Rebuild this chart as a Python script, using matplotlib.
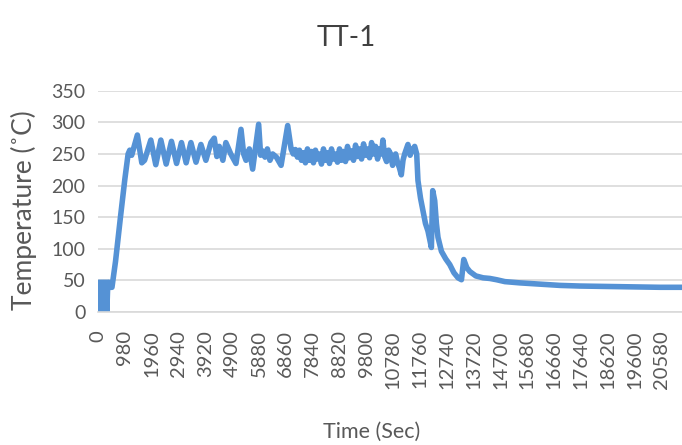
import matplotlib
matplotlib.use('Agg')
import matplotlib.pyplot as plt

plt.rcParams['font.family'] = ['Lato', 'DejaVu Sans']

# time (sec) and temperature (deg C)
time_sec = [0, 40, 80, 120, 160, 200, 240, 280, 320, 360, 400,
            420, 510, 640, 820, 980, 1100, 1160, 1230, 1320,
            1438, 1600, 1700, 1929, 2110, 2295, 2490, 2683, 2870, 3049, 3220,
            3393, 3580, 3759, 3940, 4125, 4246, 4340, 4429, 4560, 4670, 4850, 5040, 5223,
            5320, 5406, 5527, 5648, 5867, 5940, 6002, 6100, 6185, 6280, 6380, 6515, 6687, 6928,
            7053, 7130,
            7210, 7283, 7357, 7430, 7503, 7576, 7650, 7723, 7796, 7869,
            7942, 8015, 8089, 8162, 8235, 8308, 8381, 8454, 8528, 8601,
            8674, 8747, 8821, 8894, 8967, 9040, 9113, 9186, 9260, 9333,
            9406, 9479, 9553, 9626, 9699, 9772, 9845, 9918, 9992, 10065,
            10138, 10211, 10285, 10358, 10405, 10470, 10541, 10614, 10687, 10760,
            10797, 10870, 10943, 11010, 11078, 11140, 11200,
            11320, 11400, 11456, 11566, 11640, 11686, 11780, 11869, 11960, 12052, 12177,
            12225, 12298, 12360, 12418, 12543, 12700, 12847, 13000, 13150, 13275,
            13359, 13470, 13579, 13799, 14066, 14310,
            14556, 14860, 15409, 16140, 16873, 17604, 19069, 20533, 21338]
temp_c = [0, 47, 0, 47, 0, 47, 0, 47, 0, 47, 47,
          39, 39, 80, 150, 210, 250, 256, 248, 262,
          280, 236, 240, 272, 233, 272, 234, 270, 235, 268, 236,
          268, 237, 265, 240, 268, 275, 246, 262, 240, 268, 250, 235, 289,
          250, 240, 258, 226, 297, 248, 255, 245, 258, 240, 250, 245, 232, 295,
          258, 250,
          257, 245, 256, 240, 252, 236, 258, 240, 254, 236,
          256, 242, 250, 234, 258, 240, 252, 235, 258, 242,
          250, 237, 258, 240, 254, 238, 262, 244, 255, 240,
          264, 246, 258, 242, 266, 248, 258, 244, 268, 250,
          262, 242, 258, 250, 272, 246, 238, 256, 250, 232,
          240, 250, 236, 228, 217, 240, 250,
          265, 248, 255, 262, 250, 208, 180, 160, 140, 128, 102,
          192, 176, 140, 118, 96, 84, 75, 62, 54, 51,
          83, 70, 64, 57, 54, 53,
          51, 48, 46, 44, 42, 41, 40, 39, 39]

tick_pos = list(range(0, 20581, 980))
tick_labels = [str(t) for t in tick_pos]

fig = plt.figure(figsize=(6.82, 4.45), dpi=100)
ax = fig.add_axes([0.1437, 0.299, 0.8563, 0.497])

ax.plot(time_sec, temp_c, color='#5592D5', lw=4.0, solid_joinstyle='round')

ax.set_ylim(0, 350)
ax.set_xlim(0, 21330)
ax.set_yticks(range(0, 351, 50))
ax.set_xticks(tick_pos)
ax.set_xticklabels(tick_labels, rotation=90, fontsize=14.5, color='#595959')
ax.tick_params(axis='y', labelsize=14, labelcolor='#595959', length=0, pad=9)
ax.tick_params(axis='x', length=0, pad=13)

ax.grid(axis='y', color='#D9D9D9', lw=1.2)
ax.set_axisbelow(True)
for s in ['top', 'right', 'left']:
    ax.spines[s].set_visible(False)
ax.spines['bottom'].set_color('#D9D9D9')
ax.spines['bottom'].set_linewidth(1.2)

ax.set_ylabel('Temperature (˚C)', fontsize=19, color='#595959')
ax.yaxis.set_label_coords(-0.105, 0.46)
ax.set_xlabel('Time (Sec)', fontsize=15.5, color='#595959')
ax.xaxis.set_label_coords(0.469, -0.495)
fig.text(0.508, 0.915, 'TT-1', fontsize=20, color='#404040', ha='center', va='center')

fig.savefig('out.png', dpi=100)
